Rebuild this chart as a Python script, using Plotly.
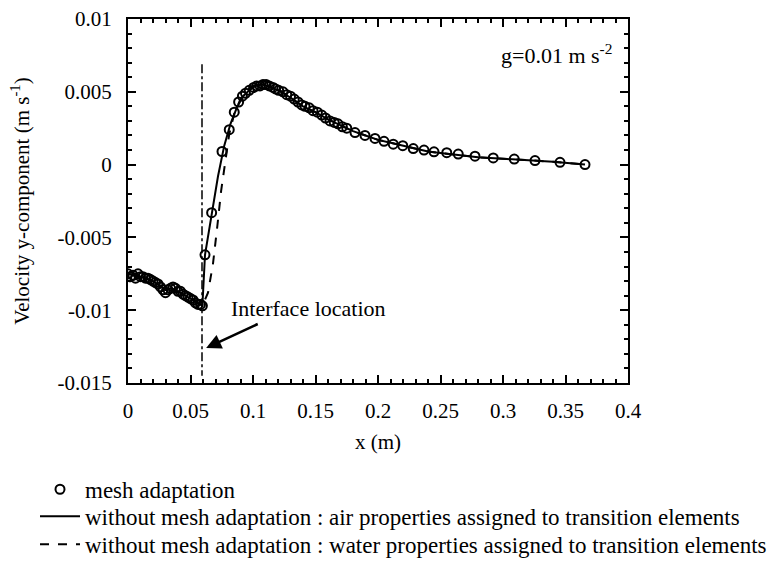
import plotly.graph_objects as go

# mesh adaptation (open circles)
mesh_x = [0.0, 0.002, 0.004, 0.006, 0.008, 0.010, 0.012, 0.014, 0.016, 0.018,
          0.020, 0.022, 0.024, 0.026, 0.028, 0.030, 0.032, 0.034, 0.036, 0.038,
          0.040, 0.042, 0.044, 0.046, 0.048, 0.050, 0.052, 0.054, 0.056, 0.058,
          0.0595, 0.0616, 0.0669, 0.0752, 0.081, 0.085, 0.0885, 0.0915, 0.094,
          0.097, 0.1005, 0.103, 0.1056, 0.108, 0.1105, 0.113, 0.116, 0.118,
          0.1205, 0.124, 0.127, 0.130, 0.133, 0.136, 0.139, 0.1416, 0.145,
          0.148, 0.1515, 0.155, 0.158, 0.1616, 0.165, 0.168, 0.1715, 0.175,
          0.1816, 0.1896, 0.1976, 0.2048, 0.2122, 0.2198, 0.2282, 0.2368,
          0.2448, 0.255, 0.2642, 0.2776, 0.2922, 0.309, 0.3256, 0.3456, 0.3656]
mesh_y = [-0.0075, -0.0077, -0.0076, -0.0078, -0.0075, -0.0077, -0.0077, -0.0078,
          -0.0078, -0.0079, -0.0080, -0.0081, -0.0082, -0.0084, -0.0086, -0.0088,
          -0.0086, -0.0085, -0.0084, -0.0085, -0.0087, -0.0087, -0.0089, -0.0090,
          -0.0091, -0.0092, -0.0093, -0.0095, -0.0096, -0.0096, -0.0097, -0.0062,
          -0.0033, 0.0009, 0.0024, 0.0036, 0.0043, 0.0047, 0.0049, 0.0051, 0.0053,
          0.0054, 0.0054, 0.0055, 0.0055, 0.0054, 0.0053, 0.0052, 0.0051, 0.0050,
          0.0048, 0.0047, 0.0045, 0.0043, 0.0041, 0.0040, 0.0039, 0.0037, 0.0036,
          0.0034, 0.0032, 0.0030, 0.0029, 0.0028, 0.0026, 0.0025, 0.0022, 0.0020,
          0.0018, 0.0016, 0.0014, 0.0013, 0.0011, 0.0010, 0.00088, 0.00082,
          0.00072, 0.00058, 0.00046, 0.00038, 0.00028, 0.00016, 0.0]

# without mesh adaptation : air properties (solid)
air_x = [0.0, 0.01, 0.02, 0.03, 0.035, 0.04, 0.05, 0.0595, 0.0616, 0.067, 0.072,
         0.077, 0.082, 0.087, 0.092, 0.097, 0.102, 0.107, 0.112, 0.12, 0.13, 0.14,
         0.15, 0.16, 0.17, 0.18, 0.19, 0.20, 0.21, 0.22, 0.23, 0.24, 0.25, 0.26,
         0.28, 0.30, 0.32, 0.34, 0.3656]
air_y = [-0.0075, -0.0077, -0.0080, -0.0086, -0.0085, -0.0087, -0.0092, -0.0097,
         -0.0062, -0.0033, -0.0008, 0.0013, 0.0028, 0.0039, 0.0047, 0.0051, 0.0054,
         0.0055, 0.0054, 0.0051, 0.0046, 0.0040, 0.0036, 0.0031, 0.0027, 0.0023,
         0.0020, 0.0017, 0.0015, 0.0013, 0.0011, 0.0009, 0.0008, 0.0007, 0.0005,
         0.0004, 0.0003, 0.0002, 0.0]

# without mesh adaptation : water properties (dashed)
water_x = [0.0, 0.01, 0.02, 0.03, 0.035, 0.04, 0.05, 0.0595, 0.064, 0.068, 0.0715,
           0.0745, 0.078, 0.081, 0.085, 0.09, 0.095, 0.10, 0.105, 0.11, 0.115, 0.12,
           0.13, 0.14, 0.15, 0.16, 0.17, 0.18, 0.19, 0.20, 0.22, 0.24, 0.26, 0.28,
           0.30, 0.32, 0.34, 0.3656]
water_y = [-0.0075, -0.0077, -0.0080, -0.0086, -0.0085, -0.0087, -0.0092, -0.0097,
           -0.0088, -0.0068, -0.0042, -0.0018, 0.0003, 0.0021, 0.0035, 0.0045,
           0.0051, 0.0054, 0.0056, 0.0057, 0.0056, 0.0052, 0.0046, 0.0040, 0.0036,
           0.0031, 0.0027, 0.0023, 0.0020, 0.0017, 0.0013, 0.0009, 0.0007, 0.0005,
           0.0004, 0.0003, 0.0002, 0.0]

# interface location (dash-dot)
iface_x = [0.0592, 0.0592]
iface_y = [0.0069, -0.0145]

x_ticks = [0, 0.05, 0.1, 0.15, 0.2, 0.25, 0.3, 0.35, 0.4]
x_tick_text = ["0", "0.05", "0.1", "0.15", "0.2", "0.25", "0.3", "0.35", "0.4"]
y_ticks = [-0.015, -0.01, -0.005, 0, 0.005, 0.01]
y_tick_text = ["-0.015", "-0.01", "-0.005", "0", "0.005", "0.01"]

FONT = "Liberation Serif, Times New Roman, serif"
FS = 21
LFS = 23

fig = go.Figure()
fig.add_trace(go.Scatter(x=iface_x, y=iface_y, mode="lines", showlegend=False,
                         line=dict(color="black", width=1.5, dash="dashdot")))
fig.add_trace(go.Scatter(x=mesh_x, y=mesh_y, mode="markers", name="mesh adaptation",
                         legend="legend",
                         marker=dict(symbol="circle-open", size=9, color="black",
                                     line=dict(width=2, color="black"))))
fig.add_trace(go.Scatter(x=air_x, y=air_y, mode="lines", legend="legend2",
                         name="without mesh adaptation : air properties assigned to transition elements",
                         line=dict(color="black", width=2)))
fig.add_trace(go.Scatter(x=water_x, y=water_y, mode="lines", legend="legend3",
                         name="without mesh adaptation : water properties assigned to transition elements",
                         line=dict(color="black", width=2, dash="dash")))

axis_common = dict(showgrid=False, zeroline=False, showline=True, linecolor="black",
                   linewidth=2, mirror="allticks", ticks="inside", ticklen=8,
                   tickwidth=2, tickcolor="black", automargin=False,
                   tickfont=dict(family=FONT, size=FS, color="black"))

fig.update_xaxes(range=[0, 0.4], tickvals=x_ticks, ticktext=x_tick_text,
                 ticklabelstandoff=8,
                 minor=dict(dtick=0.01, ticks="inside", ticklen=4, tickwidth=1.5,
                            tickcolor="black"),
                 title=dict(text="x (m)", font=dict(family=FONT, size=FS, color="black"),
                            standoff=12),
                 **axis_common)
fig.update_yaxes(range=[-0.015, 0.01], tickvals=y_ticks, ticktext=y_tick_text,
                 ticklabelstandoff=10,
                 minor=dict(dtick=0.001, ticks="inside", ticklen=4, tickwidth=1.5,
                            tickcolor="black"),
                 title=dict(text="Velocity y-component (m s<sup>-1</sup>)",
                            font=dict(family=FONT, size=FS, color="black"), standoff=22),
                 **axis_common)

fig.add_annotation(x=0.3885, y=0.0076, xref="x", yref="y", xanchor="right",
                   text="g=0.01 m s<sup>-2</sup>", showarrow=False,
                   font=dict(family=FONT, size=22, color="black"))
fig.add_annotation(x=0.0625, y=-0.0126, xref="x", yref="y", ax=0.105, ay=-0.0109,
                   axref="x", ayref="y", text="", showarrow=True, arrowhead=2,
                   arrowsize=1.2, arrowwidth=2.5, arrowcolor="black")
fig.add_annotation(x=0.0805, y=-0.0099, xref="x", yref="y", xanchor="left",
                   text="Interface location", showarrow=False,
                   font=dict(family=FONT, size=22, color="black"))

leg_common = dict(x=-0.186, xanchor="left", yanchor="middle",
                  font=dict(family=FONT, size=LFS, color="black"),
                  bgcolor="rgba(0,0,0,0)", itemwidth=40)

fig.update_layout(
    width=773, height=564,
    margin=dict(l=128, r=145, t=19, b=181, autoexpand=False),
    paper_bgcolor="white", plot_bgcolor="white",
    font=dict(family=FONT, size=FS, color="black"),
    legend=dict(y=-0.292, **leg_common),
    legend2=dict(y=-0.366, **leg_common),
    legend3=dict(y=-0.443, **leg_common),
)

fig.write_html("out.html")
